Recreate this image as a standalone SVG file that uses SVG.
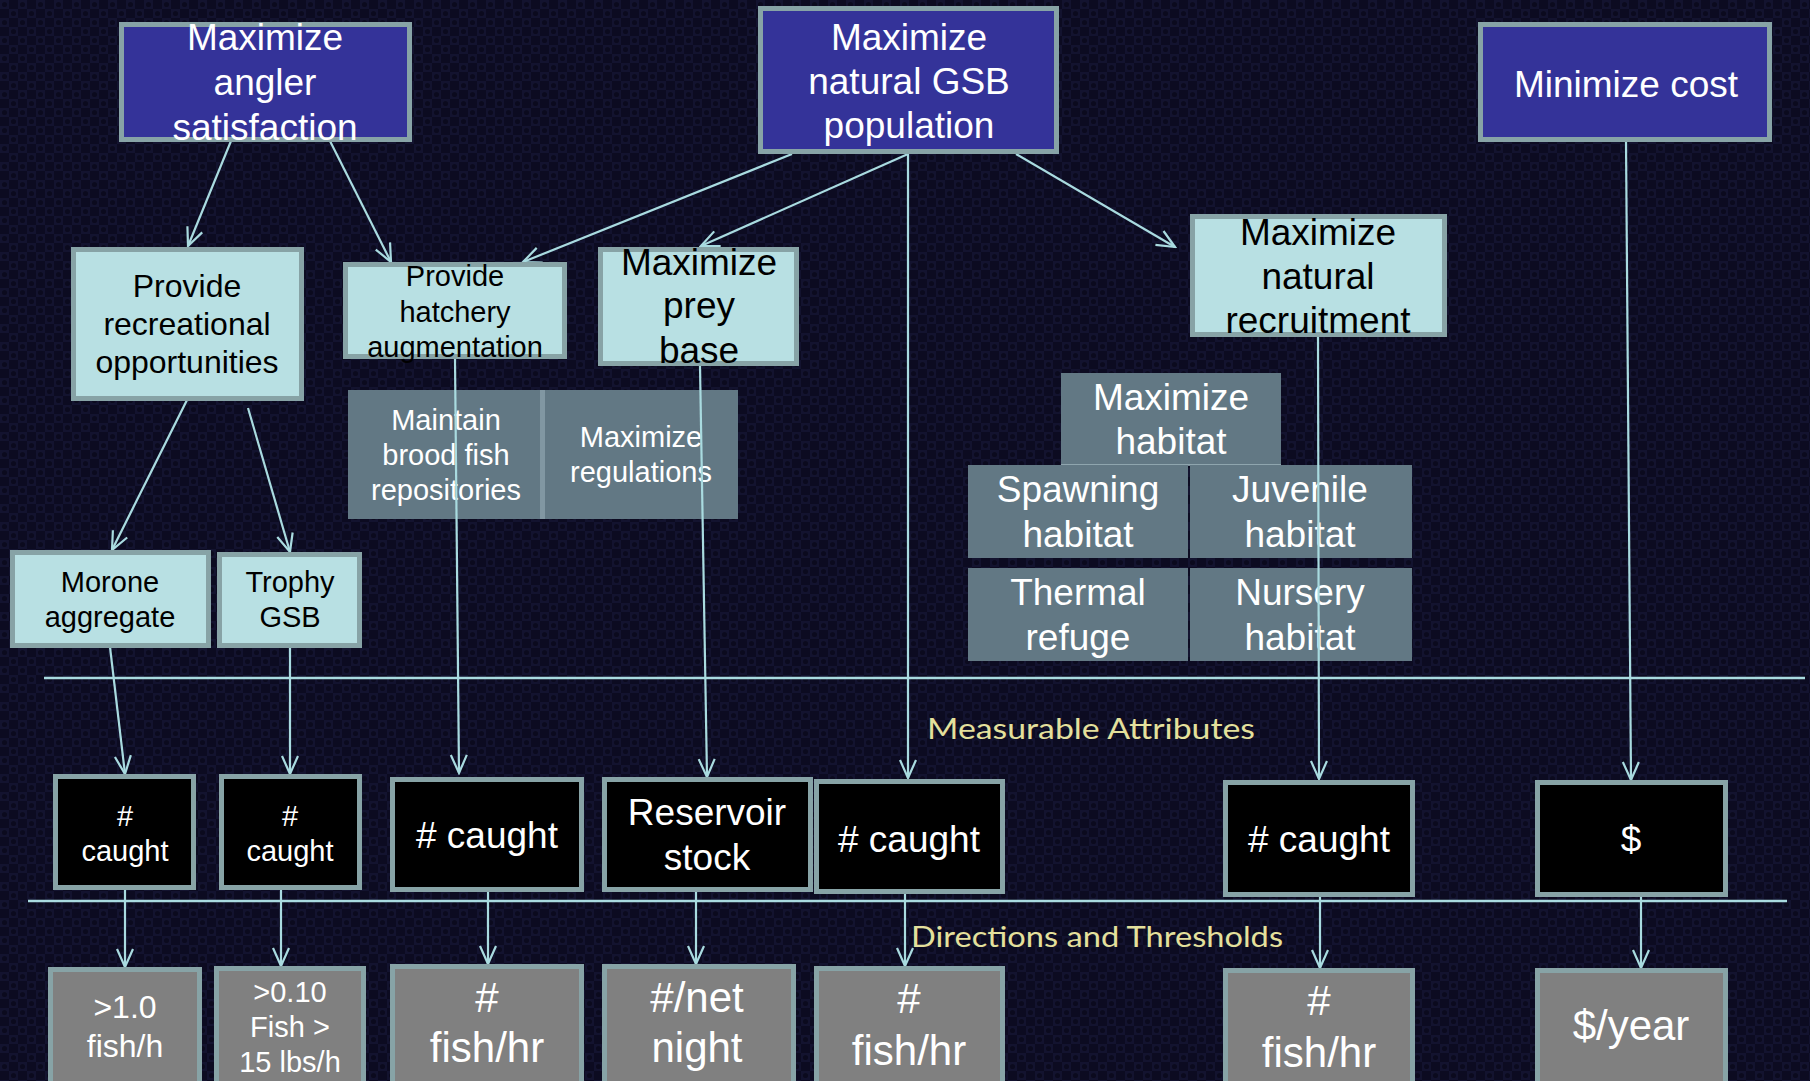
<svg xmlns="http://www.w3.org/2000/svg" width="1810" height="1081" viewBox="0 0 1810 1081">
  <defs>
    <pattern id="weave" width="18" height="18" patternUnits="userSpaceOnUse">
      <rect width="18" height="18" fill="#0c0b21"/>
      <rect x="0" y="0" width="9" height="9" fill="#13132f"/>
      <rect x="9" y="9" width="9" height="9" fill="#13132f"/>
      <circle cx="4.5" cy="4.5" r="2.6" fill="#0b0a1e"/>
      <circle cx="13.5" cy="13.5" r="2.6" fill="#0b0a1e"/>
    </pattern>
    <marker id="open" viewBox="-20 -11 22 22" markerWidth="22" markerHeight="22" refX="0" refY="0" orient="auto" markerUnits="userSpaceOnUse">
      <path d="M -18,-8 L 0,0 L -18,8" fill="none" stroke="#a9dbe0" stroke-width="2.2" stroke-linejoin="miter"/>
    </marker>
  </defs>
  <style>
    text { font-family: "Liberation Sans", Arial, sans-serif; text-anchor: middle; }
    .box { stroke: #87a3a6; stroke-width: 5; }
    .goal { fill: #343399; }
    .obj { fill: #b8e0e3; }
    .attr { fill: #000000; }
    .thr { fill: #808080; }
    .panel { fill: #627884; }
    .wt { fill: #ffffff; }
    .bk { fill: #000000; }
    .f37 { font-size: 37px; }
    .f32 { font-size: 32px; }
    .f29 { font-size: 29px; }
    .f42 { font-size: 42px; }
    .edge { stroke: #a9dbe0; stroke-width: 2.2; fill: none; marker-end: url(#open); }
    .rule { stroke: #a9dbe0; stroke-width: 2.5; }
    .band { font-family: Lato, "Liberation Sans", sans-serif; font-size: 29px; fill: #e4e09c; text-anchor: start; }
  </style>

  <rect width="1810" height="1081" fill="url(#weave)"/>

  <!-- section rules -->
  <g id="rules">
    <line class="rule" x1="44" y1="678" x2="1805" y2="678"/>
    <line class="rule" x1="28" y1="901" x2="1787" y2="901"/>
    <text class="band" x="927" y="739" textLength="328" lengthAdjust="spacingAndGlyphs">Measurable Attributes</text>
    <text class="band" x="911" y="947" textLength="372" lengthAdjust="spacingAndGlyphs">Directions and Thresholds</text>
  </g>

  <!-- sub-objective panels -->
  <g id="hatchery-actions">
    <rect class="panel" x="348" y="390" width="390" height="129"/>
    <rect x="540" y="390" width="5" height="129" fill="#8197a2"/>
    <text class="wt f29" x="446"><tspan x="446" y="430">Maintain</tspan><tspan x="446" y="465">brood fish</tspan><tspan x="446" y="500">repositories</tspan></text>
    <text class="wt f29" x="641"><tspan x="641" y="447">Maximize</tspan><tspan x="641" y="482">regulations</tspan></text>
  </g>

  <g id="habitat">
    <rect class="panel" x="1061" y="373" width="220" height="92"/>
    <line x1="1061" y1="465" x2="1281" y2="465" stroke="#9fb5bd" stroke-width="1.5"/>
    <rect class="panel" x="968" y="465" width="220" height="93"/>
    <rect class="panel" x="1190" y="465" width="222" height="93"/>
    <rect class="panel" x="968" y="568" width="220" height="93"/>
    <rect class="panel" x="1190" y="568" width="222" height="93"/>
    <text class="wt f37"><tspan x="1171" y="410">Maximize</tspan><tspan x="1171" y="454">habitat</tspan></text>
    <text class="wt f37"><tspan x="1078" y="502">Spawning</tspan><tspan x="1078" y="547">habitat</tspan></text>
    <text class="wt f37"><tspan x="1300" y="502">Juvenile</tspan><tspan x="1300" y="547">habitat</tspan></text>
    <text class="wt f37"><tspan x="1078" y="605">Thermal</tspan><tspan x="1078" y="650">refuge</tspan></text>
    <text class="wt f37"><tspan x="1300" y="605">Nursery</tspan><tspan x="1300" y="650">habitat</tspan></text>
  </g>

  <!-- connectors -->
  <g id="connectors">
    <line class="edge" x1="231" y1="141" x2="188" y2="246"/>
    <line class="edge" x1="330" y1="141" x2="391" y2="262"/>
    <line class="edge" x1="792" y1="154" x2="523" y2="262"/>
    <line class="edge" x1="908" y1="154" x2="701" y2="246"/>
    <line class="edge" x1="1016" y1="154" x2="1175" y2="247"/>
    <line class="edge" x1="908" y1="154" x2="908" y2="778"/>
    <line class="edge" x1="187" y1="400" x2="112" y2="550"/>
    <line class="edge" x1="248" y1="408" x2="290" y2="552"/>
    <line class="edge" x1="110" y1="647" x2="125" y2="774"/>
    <line class="edge" x1="290" y1="648" x2="290" y2="774"/>
    <line class="edge" x1="455" y1="359" x2="459" y2="773"/>
    <line class="edge" x1="700" y1="366" x2="707" y2="777"/>
    <line class="edge" x1="1318" y1="337" x2="1319" y2="779"/>
    <line class="edge" x1="1626" y1="142" x2="1631" y2="780"/>
    <line class="edge" x1="125" y1="890" x2="125" y2="967"/>
    <line class="edge" x1="281" y1="890" x2="281" y2="966"/>
    <line class="edge" x1="488" y1="892" x2="488" y2="964"/>
    <line class="edge" x1="696" y1="892" x2="696" y2="964"/>
    <line class="edge" x1="905" y1="892" x2="905" y2="966"/>
    <line class="edge" x1="1320" y1="894" x2="1320" y2="968"/>
    <line class="edge" x1="1641" y1="894" x2="1641" y2="968"/>
  </g>

  <!-- fundamental objectives -->
  <g id="angler-satisfaction">
    <rect class="box goal" x="121.5" y="24.5" width="288" height="115"/>
    <text class="wt f37"><tspan x="265" y="50">Maximize</tspan><tspan x="265" y="95">angler</tspan><tspan x="265" y="140">satisfaction</tspan></text>
  </g>
  <g id="gsb-population">
    <rect class="box goal" x="760.5" y="8.5" width="296" height="143"/>
    <text class="wt f37"><tspan x="909" y="50">Maximize</tspan><tspan x="909" y="94">natural GSB</tspan><tspan x="909" y="138">population</tspan></text>
  </g>
  <g id="minimize-cost">
    <rect class="box goal" x="1480.5" y="24.5" width="289" height="115"/>
    <text class="wt f37" x="1626" y="97">Minimize cost</text>
  </g>

  <!-- means objectives -->
  <g id="recreational">
    <rect class="box obj" x="73.5" y="249.5" width="228" height="149"/>
    <text class="bk f32"><tspan x="187" y="297">Provide</tspan><tspan x="187" y="335">recreational</tspan><tspan x="187" y="373">opportunities</tspan></text>
  </g>
  <g id="hatchery">
    <rect class="box obj" x="345.5" y="264.5" width="219" height="92"/>
    <text class="bk f29"><tspan x="455" y="286">Provide</tspan><tspan x="455" y="322">hatchery</tspan><tspan x="455" y="357">augmentation</tspan></text>
  </g>
  <g id="prey-base">
    <rect class="box obj" x="600.5" y="249.5" width="196" height="114"/>
    <text class="bk f37"><tspan x="699" y="275">Maximize</tspan><tspan x="699" y="318">prey</tspan><tspan x="699" y="363">base</tspan></text>
  </g>
  <g id="recruitment">
    <rect class="box obj" x="1192.5" y="216.5" width="252" height="118"/>
    <text class="bk f37"><tspan x="1318" y="245">Maximize</tspan><tspan x="1318" y="289">natural</tspan><tspan x="1318" y="333">recruitment</tspan></text>
  </g>
  <g id="morone">
    <rect class="box obj" x="12.5" y="552.5" width="196" height="93"/>
    <text class="bk f29"><tspan x="110" y="592">Morone</tspan><tspan x="110" y="627">aggregate</tspan></text>
  </g>
  <g id="trophy">
    <rect class="box obj" x="219.5" y="554.5" width="140" height="91"/>
    <text class="bk f29"><tspan x="290" y="592">Trophy</tspan><tspan x="290" y="627">GSB</tspan></text>
  </g>

  <!-- measurable attributes -->
  <g id="attr-morone">
    <rect class="box attr" x="55.5" y="776.5" width="138" height="111"/>
    <text class="wt f29"><tspan x="125" y="826">#</tspan><tspan x="125" y="861">caught</tspan></text>
  </g>
  <g id="attr-trophy">
    <rect class="box attr" x="221.5" y="776.5" width="138" height="111"/>
    <text class="wt f29"><tspan x="290" y="826">#</tspan><tspan x="290" y="861">caught</tspan></text>
  </g>
  <g id="attr-hatchery">
    <rect class="box attr" x="392.5" y="779.5" width="189" height="110"/>
    <text class="wt f37" x="487" y="848"># caught</text>
  </g>
  <g id="attr-reservoir">
    <rect class="box attr" x="604.5" y="779.5" width="206" height="110"/>
    <text class="wt f37"><tspan x="707" y="825">Reservoir</tspan><tspan x="707" y="870">stock</tspan></text>
  </g>
  <g id="attr-gsb">
    <rect class="box attr" x="816.5" y="781.5" width="186" height="110"/>
    <text class="wt f37" x="909" y="852"># caught</text>
  </g>
  <g id="attr-recruitment">
    <rect class="box attr" x="1225.5" y="782.5" width="187" height="112"/>
    <text class="wt f37" x="1319" y="852"># caught</text>
  </g>
  <g id="attr-cost">
    <rect class="box attr" x="1537.5" y="782.5" width="188" height="112"/>
    <text class="wt f37" x="1631" y="852">$</text>
  </g>

  <!-- directions and thresholds -->
  <g id="thr-morone">
    <rect class="box thr" x="50.5" y="969.5" width="149" height="130"/>
    <text class="wt f32"><tspan x="125" y="1018">&gt;1.0</tspan><tspan x="125" y="1057">fish/h</tspan></text>
  </g>
  <g id="thr-trophy">
    <rect class="box thr" x="216.5" y="968.5" width="147" height="130"/>
    <text class="wt f29"><tspan x="290" y="1002">&gt;0.10</tspan><tspan x="290" y="1037">Fish &gt;</tspan><tspan x="290" y="1072">15 lbs/h</tspan></text>
  </g>
  <g id="thr-hatchery">
    <rect class="box thr" x="392.5" y="966.5" width="189" height="130"/>
    <text class="wt f42"><tspan x="487" y="1012">#</tspan><tspan x="487" y="1062">fish/hr</tspan></text>
  </g>
  <g id="thr-reservoir">
    <rect class="box thr" x="604.5" y="966.5" width="189" height="130"/>
    <text class="wt f42"><tspan x="697" y="1012">#/net</tspan><tspan x="697" y="1062">night</tspan></text>
  </g>
  <g id="thr-gsb">
    <rect class="box thr" x="816.5" y="968.5" width="186" height="130"/>
    <text class="wt f42"><tspan x="909" y="1013">#</tspan><tspan x="909" y="1065">fish/hr</tspan></text>
  </g>
  <g id="thr-recruitment">
    <rect class="box thr" x="1225.5" y="970.5" width="187" height="130"/>
    <text class="wt f42"><tspan x="1319" y="1015">#</tspan><tspan x="1319" y="1067">fish/hr</tspan></text>
  </g>
  <g id="thr-cost">
    <rect class="box thr" x="1537.5" y="970.5" width="188" height="130"/>
    <text class="wt f42" x="1631" y="1040">$/year</text>
  </g>
</svg>
